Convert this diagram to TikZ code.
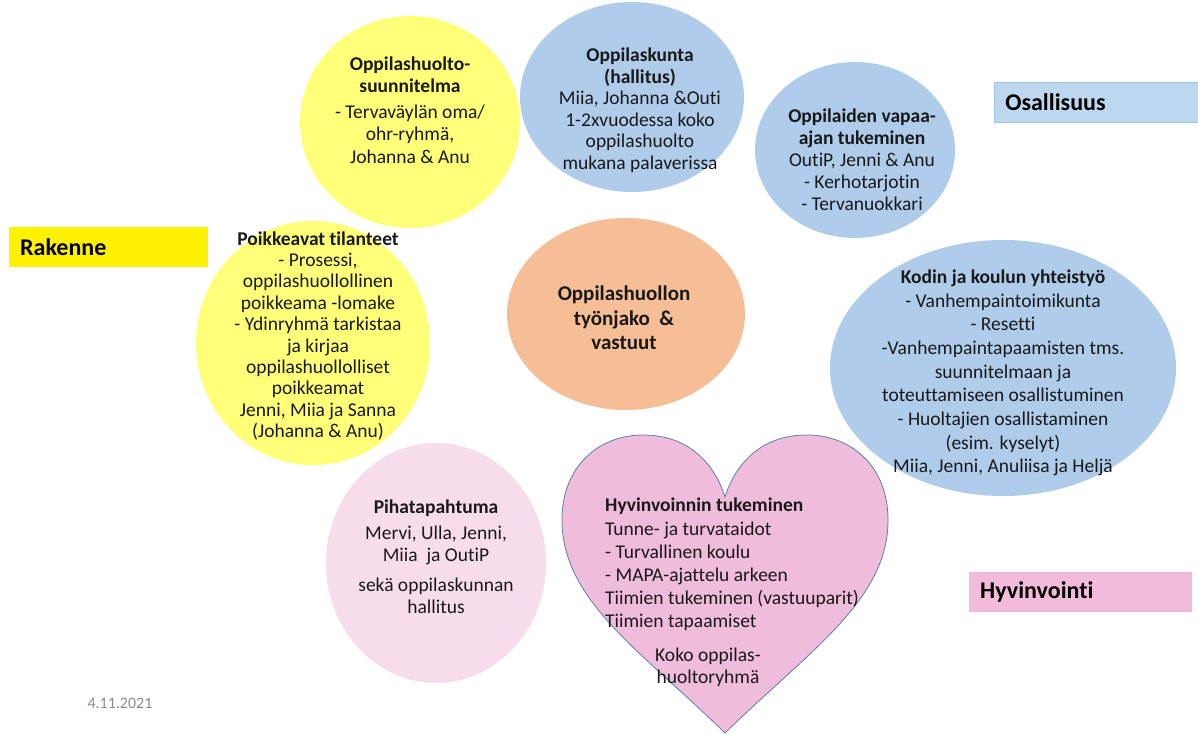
\documentclass[tikz,border=0pt]{standalone}
\usepackage{fontspec}
\setmainfont{Carlito}[Ligatures=NoCommon]
\definecolor{bubbleyellow}{HTML}{FFFF78}
\definecolor{bubbleblue}{HTML}{AFCCEA}
\definecolor{bubbleorange}{HTML}{F5BE96}
\definecolor{bubblepink}{HTML}{F7DDEC}
\definecolor{heartpink}{HTML}{F0BCDC}
\definecolor{heartline}{HTML}{5A7FA8}
\definecolor{tagblue}{HTML}{BDD7EE}
\definecolor{tagblueline}{HTML}{9DC3E6}
\definecolor{tagpink}{HTML}{F2BBDC}
\definecolor{dategray}{HTML}{8C8C8C}
\begin{document}
\begin{tikzpicture}[x=1pt,y=-1pt,
    bubbletext/.style={align=center, inner sep=0pt, text=black!90},
    tagbox/.style={anchor=north west, minimum height=40pt, inner xsep=11pt,
      inner ysep=0pt, align=left, font=\fontsize{24}{28}\selectfont\bfseries}]
    \useasboundingbox (0,0) rectangle (1198,735);

    % bubbles
    \fill[bubbleblue] (632,97) ellipse [x radius=112pt, y radius=95pt];
    \fill[bubbleblue] (855,150) ellipse [x radius=100pt, y radius=88pt];
    \fill[bubbleblue] (1003,368) ellipse [x radius=173pt, y radius=128pt];
    \fill[bubbleorange] (626,314) ellipse [x radius=119pt, y radius=96pt];
    \fill[bubblepink] (436,563) ellipse [x radius=110pt, y radius=120pt];
    \fill[bubbleyellow] (410,122) ellipse [x radius=110pt, y radius=106pt];
    \fill[bubbleyellow] (313,343) ellipse [x radius=117pt, y radius=122pt];

    % heart
    \filldraw[fill=heartpink, draw=heartline, line width=0.8pt]
      (725,497) .. controls (715,465) and (690,435) .. (643,435)
      .. controls (600,435) and (562,465) .. (562,520)
      .. controls (562,600) and (640,650) .. (725,733)
      .. controls (810,650) and (888,600) .. (888,520)
      .. controls (888,465) and (850,435) .. (807,435)
      .. controls (760,435) and (735,465) .. (725,497) -- cycle;

    % tags
    \node[tagbox, fill=yellow, minimum width=199pt, text width=177pt] (rakenne) at (9,227) {Rakenne};
    \node[tagbox, fill=tagblue, draw=tagblueline, line width=0.6pt, minimum width=204pt, text width=182pt] (osallisuus) at (994,82) {Osallisuus};
    \node[tagbox, fill=tagpink, minimum width=223pt, text width=201pt] (hyvinvointi) at (969,572) {Hyvinvointi};

    % texts
    \node[bubbletext, font=\fontsize{19.5}{22.5}\selectfont] (suunnitelma) at (410,110)
      {\textbf{Oppilashuolto-}\\\textbf{suunnitelma}\\[3pt]- Tervaväylän oma/\\ohr-ryhmä,\\Johanna \& Anu};
    \node[bubbletext, font=\fontsize{19.5}{21.5}\selectfont] (kunta) at (640,110)
      {\textbf{Oppilaskunta}\\\textbf{(hallitus)}\\Miia, Johanna \&Outi\\1-2xvuodessa koko\\oppilashuolto\\mukana palaverissa};
    \node[bubbletext, font=\fontsize{19.5}{22}\selectfont] (vapaa) at (862,160)
      {\textbf{Oppilaiden vapaa-}\\\textbf{ajan tukeminen}\\OutiP, Jenni \& Anu\\- Kerhotarjotin\\- Tervanuokkari};
    \node[bubbletext, font=\fontsize{19.5}{21.4}\selectfont] (poikkeavat) at (318,336)
      {\textbf{Poikkeavat tilanteet}\\- Prosessi,\\oppilashuollollinen\\poikkeama -lomake\\- Ydinryhmä tarkistaa\\ja kirjaa\\oppilashuollolliset\\poikkeamat\\Jenni, Miia ja Sanna\\(Johanna \& Anu)};
    \node[bubbletext, font=\fontsize{21}{24.5}\selectfont\bfseries] (tyonjako) at (624,318)
      {Oppilashuollon\\työnjako~~\&\\vastuut};
    \node[bubbletext, font=\fontsize{19.5}{23.7}\selectfont] (yhteistyo) at (1003,373)
      {\textbf{Kodin ja koulun yhteistyö}\\- Vanhempaintoimikunta\\- Resetti\\-Vanhempaintapaamisten tms.\\suunnitelmaan ja\\toteuttamiseen osallistuminen\\- Huoltajien osallistaminen\\(esim. kyselyt)\\Miia, Jenni, Anuliisa ja Heljä};
    \node[bubbletext, font=\fontsize{19.5}{22}\selectfont] (piha) at (436,557)
      {\textbf{Pihatapahtuma}\\[4pt]Mervi, Ulla, Jenni,\\Miia~ ja OutiP\\[8pt]sekä oppilaskunnan\\hallitus};
    \node[bubbletext, anchor=north west, align=left, font=\fontsize{19.5}{23.2}\selectfont] (tukeminen) at (605,498)
      {\textbf{Hyvinvoinnin tukeminen}\\Tunne- ja turvataidot\\- Turvallinen koulu\\- MAPA-ajattelu arkeen\\Tiimien tukeminen (vastuuparit)\\Tiimien tapaamiset};
    \node[bubbletext, font=\fontsize{19.5}{22}\selectfont] (ryhma) at (708,667)
      {Koko oppilas-\\huoltoryhmä};

    \node[inner sep=0pt, text=dategray, font=\fontsize{16}{19}\selectfont] (date) at (120,703) {4.11.2021};
\end{tikzpicture}
\end{document}
